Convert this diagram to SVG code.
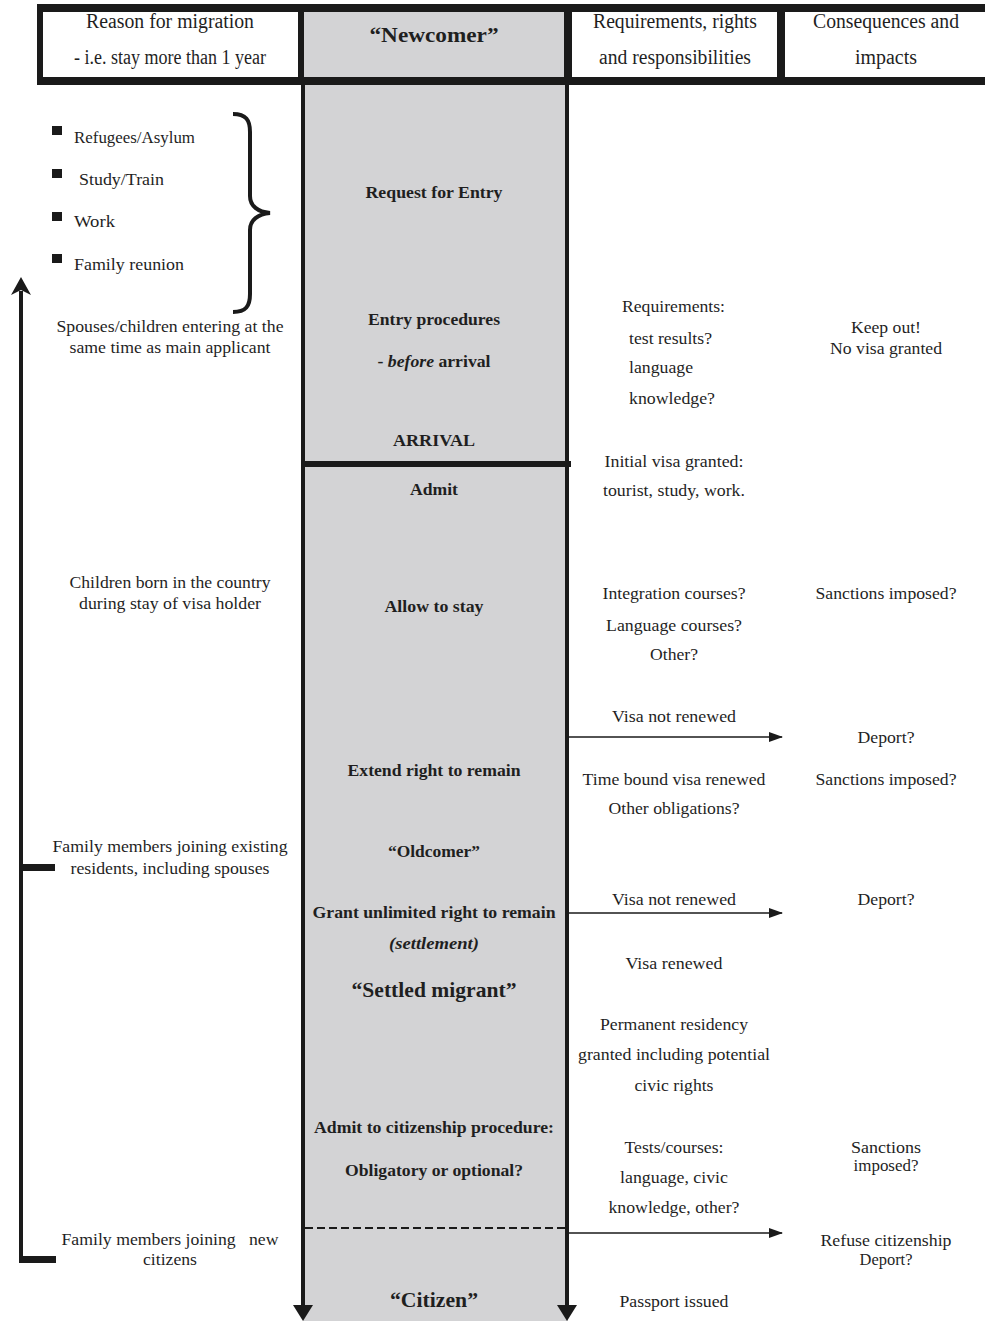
<svg xmlns="http://www.w3.org/2000/svg" width="985" height="1321" viewBox="0 0 985 1321">
<style>
text{font-family:"Liberation Serif","Times New Roman",serif;fill:#1f1f1f;font-size:17px}
.c{text-anchor:middle}
.h{font-size:20px}
.b{font-weight:bold}
.q{font-size:21px;font-weight:bold}
.ln{stroke:#1a1a1a;fill:none}
</style>
<defs>
<marker id="ah" markerWidth="14" markerHeight="10" refX="13" refY="5" orient="auto" markerUnits="userSpaceOnUse"><path d="M0,0 L14,5 L0,10 Z" fill="#1a1a1a"/></marker>
<marker id="up" markerWidth="18" markerHeight="20" refX="4" refY="10" orient="auto" markerUnits="userSpaceOnUse"><path d="M0,0 L18,10 L0,20 L5,10 Z" fill="#1a1a1a"/></marker>
</defs>
<rect width="985" height="1321" fill="#fff"/>
<g id="header">
<rect x="37" y="4" width="948" height="81" fill="#1a1a1a"/>
<rect x="43" y="12" width="255" height="65" fill="#fff"/>
<rect x="304" y="12" width="260" height="65" fill="#d3d3d5"/>
<rect x="572" y="12" width="205" height="65" fill="#fff"/>
<rect x="785" y="12" width="200" height="65" fill="#fff"/>
</g>
<g id="h-reason"><text class="c h" x="170" y="28" textLength="168" lengthAdjust="spacingAndGlyphs">Reason for migration</text><text class="c h" x="170" y="64" textLength="192" lengthAdjust="spacingAndGlyphs">- i.e. stay more than 1 year</text></g>
<g id="h-newcomer"><text class="c q" x="434" y="42" textLength="129" lengthAdjust="spacingAndGlyphs">“Newcomer”</text></g>
<g id="h-req"><text class="c h" x="675" y="28" textLength="164" lengthAdjust="spacingAndGlyphs">Requirements, rights</text><text class="c h" x="675" y="64" textLength="152" lengthAdjust="spacingAndGlyphs">and responsibilities</text></g>
<g id="h-cons"><text class="c h" x="886" y="28" textLength="146" lengthAdjust="spacingAndGlyphs">Consequences and</text><text class="c h" x="886" y="64" textLength="62" lengthAdjust="spacingAndGlyphs">impacts</text></g>
<g id="timeline">
<rect x="303" y="85" width="265" height="1236" fill="#d3d3d5"/>
<line class="ln" x1="303" y1="85" x2="303" y2="1308" stroke-width="4"/>
<line class="ln" x1="567" y1="85" x2="567" y2="1308" stroke-width="4"/>
<polygon points="293,1305 313,1305 303,1321" fill="#1a1a1a"/>
<polygon points="557,1305 577,1305 567,1321" fill="#1a1a1a"/>
<line class="ln" x1="301" y1="464" x2="571" y2="464" stroke-width="6"/>
<line class="ln" x1="305" y1="1228" x2="565" y2="1228" stroke-width="2" stroke-dasharray="8,4"/>
</g>
<g id="reasons">
<rect x="52" y="126" width="10" height="9" fill="#1a1a1a"/>
<rect x="52" y="169" width="10" height="9" fill="#1a1a1a"/>
<rect x="52" y="212" width="10" height="9" fill="#1a1a1a"/>
<rect x="52" y="254" width="10" height="9" fill="#1a1a1a"/>
<text x="74" y="143" textLength="121" lengthAdjust="spacingAndGlyphs">Refugees/Asylum</text>
<text x="79" y="185" textLength="85" lengthAdjust="spacingAndGlyphs">Study/Train</text>
<text x="74" y="227" textLength="41" lengthAdjust="spacingAndGlyphs">Work</text>
<text x="74" y="270" textLength="110" lengthAdjust="spacingAndGlyphs">Family reunion</text>
<path class="ln" stroke-width="4" d="M233,114 C246,114 250,120 250,132 L250,196 C250,206 258,212 270,213 C258,214 250,220 250,230 L250,294 C250,306 246,312 233,312"/>
</g>
<g id="left-spouses"><text class="c" x="170" y="332" textLength="227" lengthAdjust="spacingAndGlyphs">Spouses/children entering at the</text><text class="c" x="170" y="353" textLength="201" lengthAdjust="spacingAndGlyphs">same time as main applicant</text></g>
<g id="left-children"><text class="c" x="170" y="588" textLength="201" lengthAdjust="spacingAndGlyphs">Children born in the country</text><text class="c" x="170" y="609" textLength="182" lengthAdjust="spacingAndGlyphs">during stay of visa holder</text></g>
<g id="left-family"><text class="c" x="170" y="852" textLength="235" lengthAdjust="spacingAndGlyphs">Family members joining existing</text><text class="c" x="170" y="874" textLength="199" lengthAdjust="spacingAndGlyphs">residents, including spouses</text></g>
<g id="left-newcit"><text class="c" x="170" y="1245" xml:space="preserve" textLength="217" lengthAdjust="spacingAndGlyphs">Family members joining   new</text><text class="c" x="170" y="1265" textLength="54" lengthAdjust="spacingAndGlyphs">citizens</text></g>
<g id="n-request"><text class="c b" x="434" y="198" textLength="137" lengthAdjust="spacingAndGlyphs">Request for Entry</text></g>
<g id="n-entry"><text class="c b" x="434" y="325" textLength="132" lengthAdjust="spacingAndGlyphs">Entry procedures</text><text class="c b" x="434" y="367" textLength="113" lengthAdjust="spacingAndGlyphs">- <tspan font-style="italic">before</tspan> arrival</text></g>
<g id="n-arrival"><text class="c b" x="434" y="446" textLength="82" lengthAdjust="spacingAndGlyphs">ARRIVAL</text></g>
<g id="n-admit"><text class="c b" x="434" y="495" textLength="48" lengthAdjust="spacingAndGlyphs">Admit</text></g>
<g id="n-allow"><text class="c b" x="434" y="612" textLength="99" lengthAdjust="spacingAndGlyphs">Allow to stay</text></g>
<g id="n-extend"><text class="c b" x="434" y="776" textLength="173" lengthAdjust="spacingAndGlyphs">Extend right to remain</text></g>
<g id="n-oldcomer"><text class="c b" x="434" y="857" textLength="92" lengthAdjust="spacingAndGlyphs">“Oldcomer”</text></g>
<g id="n-grant"><text class="c b" x="434" y="918" textLength="243" lengthAdjust="spacingAndGlyphs">Grant unlimited right to remain</text><text class="c b" x="434" y="949" font-style="italic" textLength="90" lengthAdjust="spacingAndGlyphs">(settlement)</text></g>
<g id="n-settled"><text class="c q" x="434" y="997" textLength="165" lengthAdjust="spacingAndGlyphs">“Settled migrant”</text></g>
<g id="n-citproc"><text class="c b" x="434" y="1133" textLength="240" lengthAdjust="spacingAndGlyphs">Admit to citizenship procedure:</text><text class="c b" x="434" y="1176" textLength="178" lengthAdjust="spacingAndGlyphs">Obligatory or optional?</text></g>
<g id="n-citizen"><text class="c q" x="434" y="1307" textLength="88" lengthAdjust="spacingAndGlyphs">“Citizen”</text></g>
<g id="r-requirements"><text x="622" y="312" textLength="103" lengthAdjust="spacingAndGlyphs">Requirements:</text><text x="629" y="344" textLength="83" lengthAdjust="spacingAndGlyphs">test results?</text><text x="629" y="373" textLength="64" lengthAdjust="spacingAndGlyphs">language</text><text x="629" y="404" textLength="86" lengthAdjust="spacingAndGlyphs">knowledge?</text></g>
<g id="r-initial"><text class="c" x="674" y="467" textLength="139" lengthAdjust="spacingAndGlyphs">Initial visa granted:</text><text class="c" x="674" y="496" textLength="142" lengthAdjust="spacingAndGlyphs">tourist, study, work.</text></g>
<g id="r-integration"><text class="c" x="674" y="599" textLength="143" lengthAdjust="spacingAndGlyphs">Integration courses?</text><text class="c" x="674" y="631" textLength="136" lengthAdjust="spacingAndGlyphs">Language courses?</text><text class="c" x="674" y="660" textLength="48" lengthAdjust="spacingAndGlyphs">Other?</text></g>
<g id="r-notrenewed1"><text class="c" x="674" y="722" textLength="124" lengthAdjust="spacingAndGlyphs">Visa not renewed</text></g>
<g id="r-timebound"><text class="c" x="674" y="785" textLength="183" lengthAdjust="spacingAndGlyphs">Time bound visa renewed</text><text class="c" x="674" y="814" textLength="131" lengthAdjust="spacingAndGlyphs">Other obligations?</text></g>
<g id="r-notrenewed2"><text class="c" x="674" y="905" textLength="124" lengthAdjust="spacingAndGlyphs">Visa not renewed</text></g>
<g id="r-renewed"><text class="c" x="674" y="969" textLength="97" lengthAdjust="spacingAndGlyphs">Visa renewed</text></g>
<g id="r-permanent"><text class="c" x="674" y="1030" textLength="148" lengthAdjust="spacingAndGlyphs">Permanent residency</text><text class="c" x="674" y="1060" textLength="192" lengthAdjust="spacingAndGlyphs">granted including potential</text><text class="c" x="674" y="1091" textLength="79" lengthAdjust="spacingAndGlyphs">civic rights</text></g>
<g id="r-tests"><text class="c" x="674" y="1153" textLength="99" lengthAdjust="spacingAndGlyphs">Tests/courses:</text><text class="c" x="674" y="1183" textLength="108" lengthAdjust="spacingAndGlyphs">language, civic</text><text class="c" x="674" y="1213" textLength="131" lengthAdjust="spacingAndGlyphs">knowledge, other?</text></g>
<g id="r-passport"><text class="c" x="674" y="1307" textLength="109" lengthAdjust="spacingAndGlyphs">Passport issued</text></g>
<g id="c-keepout"><text class="c" x="886" y="333" textLength="70" lengthAdjust="spacingAndGlyphs">Keep out!</text><text class="c" x="886" y="354" textLength="112" lengthAdjust="spacingAndGlyphs">No visa granted</text></g>
<g id="c-sanctions1"><text class="c" x="886" y="599" textLength="141" lengthAdjust="spacingAndGlyphs">Sanctions imposed?</text></g>
<g id="c-deport1"><text class="c" x="886" y="743" textLength="57" lengthAdjust="spacingAndGlyphs">Deport?</text></g>
<g id="c-sanctions2"><text class="c" x="886" y="785" textLength="141" lengthAdjust="spacingAndGlyphs">Sanctions imposed?</text></g>
<g id="c-deport2"><text class="c" x="886" y="905" textLength="57" lengthAdjust="spacingAndGlyphs">Deport?</text></g>
<g id="c-sanctions3"><text class="c" x="886" y="1153" textLength="70" lengthAdjust="spacingAndGlyphs">Sanctions</text><text class="c" x="886" y="1171" textLength="65" lengthAdjust="spacingAndGlyphs">imposed?</text></g>
<g id="c-refuse"><text class="c" x="886" y="1246" textLength="131" lengthAdjust="spacingAndGlyphs">Refuse citizenship</text><text class="c" x="886" y="1265" textLength="53" lengthAdjust="spacingAndGlyphs">Deport?</text></g>
<g id="connectors">
<line class="ln" x1="569" y1="737" x2="782" y2="737" stroke-width="1.5" marker-end="url(#ah)"/>
<line class="ln" x1="569" y1="913" x2="782" y2="913" stroke-width="1.5" marker-end="url(#ah)"/>
<line class="ln" x1="569" y1="1233" x2="782" y2="1233" stroke-width="1.5" marker-end="url(#ah)"/>
<line class="ln" x1="21" y1="1263" x2="21" y2="291" stroke-width="4" marker-end="url(#up)"/>
<rect x="19" y="864" width="36" height="7" fill="#1a1a1a"/>
<rect x="19" y="1256" width="37" height="7" fill="#1a1a1a"/>
</g>
</svg>
